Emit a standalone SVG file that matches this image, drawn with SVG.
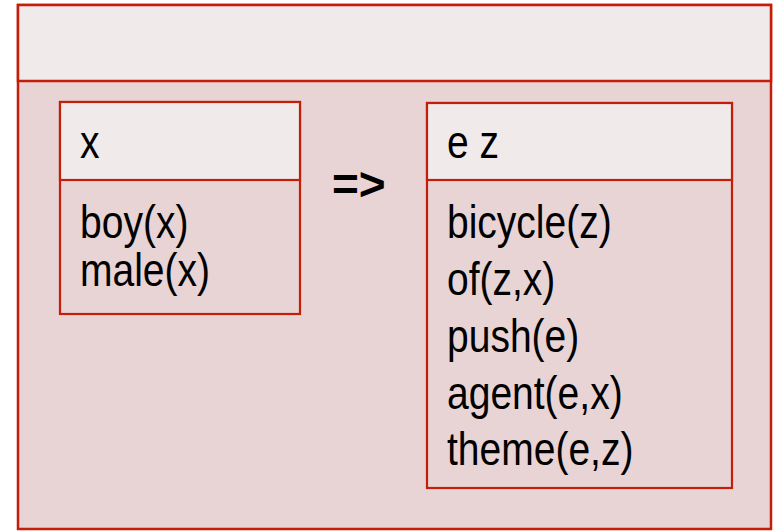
<svg xmlns="http://www.w3.org/2000/svg" width="774" height="531" viewBox="0 0 774 531">
  <style>
    .frame { stroke: #c41e0a; stroke-width: 2.5; }
    .box { stroke: #c41e0a; stroke-width: 2.2; }
    .head { fill: #f1eaea; }
    .body { fill: #e8d4d4; }
    /* condensed look: regular sans squeezed horizontally by the transform on each line */
    .t { font-family: "Liberation Sans", Arial, sans-serif; font-size: 47px; fill: #000; }
    .op { font-family: "Liberation Sans", Arial, sans-serif; font-size: 46px; font-weight: bold; fill: #000; }
  </style>

  <!-- outer DRS frame -->
  <g id="outer">
    <rect class="body frame" x="18" y="5" width="753" height="524"/>
    <rect class="head frame" x="18" y="5" width="753" height="76"/>
  </g>

  <!-- antecedent box -->
  <g id="antecedent">
    <rect class="body box" x="60" y="102" width="240" height="212"/>
    <rect class="head box" x="60" y="102" width="240" height="78"/>
    <text class="t" transform="matrix(0.83 0 0 1 80 158)">x</text>
    <text class="t" transform="matrix(0.83 0 0 1 80 238)">boy(x)</text>
    <text class="t" transform="matrix(0.83 0 0 1 80 286)">male(x)</text>
  </g>

  <!-- implication -->
  <g id="connectors">
    <text class="op" x="332" y="200">=&gt;</text>
  </g>

  <!-- consequent box -->
  <g id="consequent">
    <rect class="body box" x="427" y="103" width="305" height="385"/>
    <rect class="head box" x="427" y="103" width="305" height="77"/>
    <text class="t" transform="matrix(0.83 0 0 1 447 158)">e z</text>
    <text class="t" transform="matrix(0.83 0 0 1 447 238)">bicycle(z)</text>
    <text class="t" transform="matrix(0.83 0 0 1 447 295)">of(z,x)</text>
    <text class="t" transform="matrix(0.83 0 0 1 447 352)">push(e)</text>
    <text class="t" transform="matrix(0.83 0 0 1 447 409)">agent(e,x)</text>
    <text class="t" transform="matrix(0.83 0 0 1 447 465)">theme(e,z)</text>
  </g>
</svg>
